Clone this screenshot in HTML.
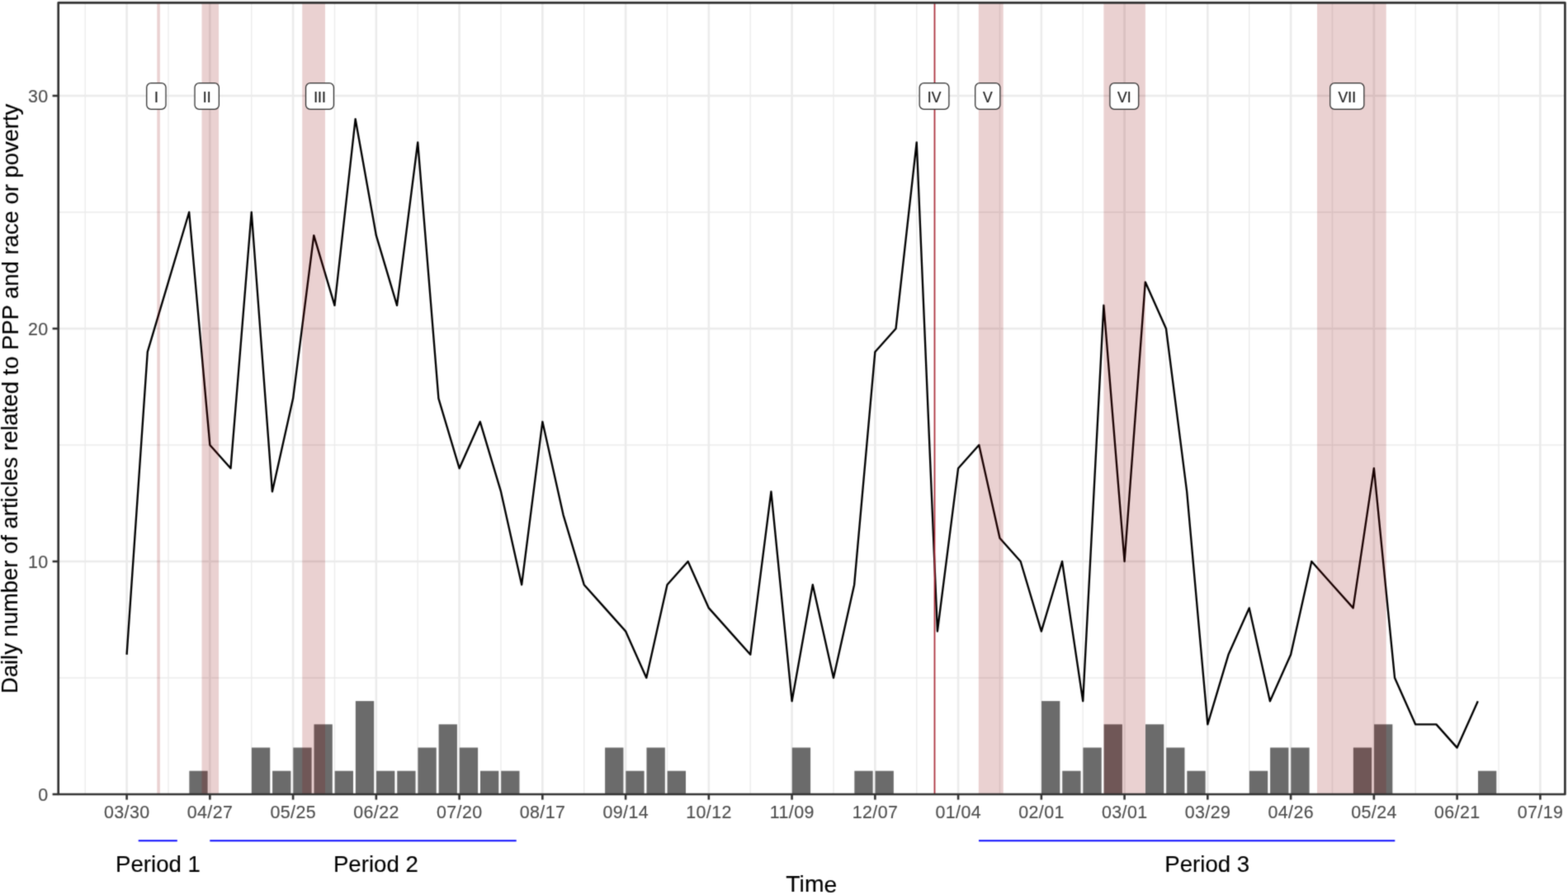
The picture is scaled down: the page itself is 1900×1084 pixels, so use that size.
<!DOCTYPE html>
<html lang="en">
<head>
<meta charset="utf-8">
<title>Daily number of articles related to PPP and race or poverty</title>
<style>
html,body{margin:0;padding:0;background:#fff;}
body{width:1900px;height:1084px;overflow:hidden;}
svg{display:block;}
text{font-family:"Liberation Sans",Arial,Helvetica,sans-serif;}
.tick{font-size:21.4px;letter-spacing:0.45px;fill:#4d4d4d;stroke:#4d4d4d;stroke-width:0.15px;}
.title{font-size:27.5px;fill:#000;stroke:#000;stroke-width:0.12px;}
.period{font-size:27.5px;fill:#000;stroke:#000;stroke-width:0.12px;}
.lab{font-size:17.5px;fill:#1a1a1a;stroke:#1a1a1a;stroke-width:0.2px;}
</style>
</head>
<body>
<svg width="1900" height="1084" viewBox="0 0 1900 1084">
<rect x="0" y="0" width="1900" height="1084" fill="#ffffff"/>
<defs><filter id="soft" x="0" y="0" width="1900" height="1084" filterUnits="userSpaceOnUse" color-interpolation-filters="sRGB"><feConvolveMatrix order="3" kernelMatrix="3 11 3 11 44 11 3 11 3" divisor="100" edgeMode="duplicate" preserveAlpha="false"/></filter><clipPath id="panel"><rect x="70.7" y="3.3" width="1825.7" height="958.7"/></clipPath></defs>
<g filter="url(#soft)">
<rect x="0" y="0" width="1900" height="1084" fill="#ffffff"/>
<g clip-path="url(#panel)">
<g stroke="#ebebeb" stroke-width="1.35" fill="none">
<line x1="70.7" x2="1896.4" y1="821" y2="821"/>
<line x1="70.7" x2="1896.4" y1="539" y2="539"/>
<line x1="70.7" x2="1896.4" y1="257" y2="257"/>
<line x1="103.22" x2="103.22" y1="3.3" y2="962"/>
<line x1="203.97" x2="203.97" y1="3.3" y2="962"/>
<line x1="304.73" x2="304.73" y1="3.3" y2="962"/>
<line x1="405.48" x2="405.48" y1="3.3" y2="962"/>
<line x1="506.23" x2="506.23" y1="3.3" y2="962"/>
<line x1="606.98" x2="606.98" y1="3.3" y2="962"/>
<line x1="707.73" x2="707.73" y1="3.3" y2="962"/>
<line x1="808.48" x2="808.48" y1="3.3" y2="962"/>
<line x1="909.23" x2="909.23" y1="3.3" y2="962"/>
<line x1="1009.98" x2="1009.98" y1="3.3" y2="962"/>
<line x1="1110.72" x2="1110.72" y1="3.3" y2="962"/>
<line x1="1211.47" x2="1211.47" y1="3.3" y2="962"/>
<line x1="1312.22" x2="1312.22" y1="3.3" y2="962"/>
<line x1="1412.97" x2="1412.97" y1="3.3" y2="962"/>
<line x1="1513.72" x2="1513.72" y1="3.3" y2="962"/>
<line x1="1614.47" x2="1614.47" y1="3.3" y2="962"/>
<line x1="1715.22" x2="1715.22" y1="3.3" y2="962"/>
<line x1="1815.97" x2="1815.97" y1="3.3" y2="962"/>
</g>
<g stroke="#ebebeb" stroke-width="2.6" fill="none">
<line x1="70.7" x2="1896.4" y1="680" y2="680"/>
<line x1="70.7" x2="1896.4" y1="398" y2="398"/>
<line x1="70.7" x2="1896.4" y1="116" y2="116"/>
<line x1="153.6" x2="153.6" y1="3.3" y2="962"/>
<line x1="254.35" x2="254.35" y1="3.3" y2="962"/>
<line x1="355.1" x2="355.1" y1="3.3" y2="962"/>
<line x1="455.85" x2="455.85" y1="3.3" y2="962"/>
<line x1="556.6" x2="556.6" y1="3.3" y2="962"/>
<line x1="657.35" x2="657.35" y1="3.3" y2="962"/>
<line x1="758.1" x2="758.1" y1="3.3" y2="962"/>
<line x1="858.85" x2="858.85" y1="3.3" y2="962"/>
<line x1="959.6" x2="959.6" y1="3.3" y2="962"/>
<line x1="1060.35" x2="1060.35" y1="3.3" y2="962"/>
<line x1="1161.1" x2="1161.1" y1="3.3" y2="962"/>
<line x1="1261.85" x2="1261.85" y1="3.3" y2="962"/>
<line x1="1362.6" x2="1362.6" y1="3.3" y2="962"/>
<line x1="1463.35" x2="1463.35" y1="3.3" y2="962"/>
<line x1="1564.1" x2="1564.1" y1="3.3" y2="962"/>
<line x1="1664.85" x2="1664.85" y1="3.3" y2="962"/>
<line x1="1765.6" x2="1765.6" y1="3.3" y2="962"/>
<line x1="1866.35" x2="1866.35" y1="3.3" y2="962"/>
</g>
<g fill="#6b6b6b">
<rect x="229.36" y="933.7" width="22.3" height="28.3"/>
<rect x="304.93" y="905.5" width="22.3" height="56.5"/>
<rect x="330.11" y="933.7" width="22.3" height="28.3"/>
<rect x="355.3" y="905.5" width="22.3" height="56.5"/>
<rect x="380.49" y="877.3" width="22.3" height="84.7"/>
<rect x="405.68" y="933.7" width="22.3" height="28.3"/>
<rect x="430.86" y="849.1" width="22.3" height="112.9"/>
<rect x="456.05" y="933.7" width="22.3" height="28.3"/>
<rect x="481.24" y="933.7" width="22.3" height="28.3"/>
<rect x="506.43" y="905.5" width="22.3" height="56.5"/>
<rect x="531.61" y="877.3" width="22.3" height="84.7"/>
<rect x="556.8" y="905.5" width="22.3" height="56.5"/>
<rect x="581.99" y="933.7" width="22.3" height="28.3"/>
<rect x="607.18" y="933.7" width="22.3" height="28.3"/>
<rect x="733.11" y="905.5" width="22.3" height="56.5"/>
<rect x="758.3" y="933.7" width="22.3" height="28.3"/>
<rect x="783.49" y="905.5" width="22.3" height="56.5"/>
<rect x="808.68" y="933.7" width="22.3" height="28.3"/>
<rect x="959.8" y="905.5" width="22.3" height="56.5"/>
<rect x="1035.36" y="933.7" width="22.3" height="28.3"/>
<rect x="1060.55" y="933.7" width="22.3" height="28.3"/>
<rect x="1262.05" y="849.1" width="22.3" height="112.9"/>
<rect x="1287.24" y="933.7" width="22.3" height="28.3"/>
<rect x="1312.42" y="905.5" width="22.3" height="56.5"/>
<rect x="1337.61" y="877.3" width="22.3" height="84.7"/>
<rect x="1387.99" y="877.3" width="22.3" height="84.7"/>
<rect x="1413.17" y="905.5" width="22.3" height="56.5"/>
<rect x="1438.36" y="933.7" width="22.3" height="28.3"/>
<rect x="1513.92" y="933.7" width="22.3" height="28.3"/>
<rect x="1539.11" y="905.5" width="22.3" height="56.5"/>
<rect x="1564.3" y="905.5" width="22.3" height="56.5"/>
<rect x="1639.86" y="905.5" width="22.3" height="56.5"/>
<rect x="1665.05" y="877.3" width="22.3" height="84.7"/>
<rect x="1790.99" y="933.7" width="22.3" height="28.3"/>
</g>
<polyline points="153.6,792.8 178.79,426.2 203.97,341.6 229.16,257 254.35,539 279.54,567.2 304.73,257 329.91,595.4 355.1,482.6 380.29,285.2 405.48,369.8 430.66,144.2 455.85,285.2 481.04,369.8 506.23,172.4 531.41,482.6 556.6,567.2 581.79,510.8 606.98,595.4 632.16,708.2 657.35,510.8 682.54,623.6 707.73,708.2 732.91,736.4 758.1,764.6 783.29,821 808.48,708.2 833.66,680 858.85,736.4 884.04,764.6 909.23,792.8 934.41,595.4 959.6,849.2 984.79,708.2 1009.98,821 1035.16,708.2 1060.35,426.2 1085.54,398 1110.72,172.4 1135.91,764.6 1161.1,567.2 1186.29,539 1211.47,651.8 1236.66,680 1261.85,764.6 1287.04,680 1312.22,849.2 1337.41,369.8 1362.6,680 1387.79,341.6 1412.97,398 1438.16,595.4 1463.35,877.4 1488.54,792.8 1513.72,736.4 1538.91,849.2 1564.1,792.8 1589.29,680 1614.47,708.2 1639.66,736.4 1664.85,567.2 1690.04,821 1715.22,877.4 1740.41,877.4 1765.6,905.6 1790.79,849.2" fill="none" stroke="#000" stroke-width="2.35" stroke-linejoin="round" stroke-linecap="butt"/>
<g fill="#8b0000" fill-opacity="0.18">
<rect x="190.3" y="3.3" width="3.6" height="958.7"/>
<rect x="244.5" y="3.3" width="20.6" height="958.7"/>
<rect x="366.2" y="3.3" width="27.8" height="958.7"/>
<rect x="1185.8" y="3.3" width="29.9" height="958.7"/>
<rect x="1337.4" y="3.3" width="50.5" height="958.7"/>
<rect x="1596" y="3.3" width="83.7" height="958.7"/>
</g>
<line x1="1132.5" x2="1132.5" y1="3.3" y2="962" stroke="#a82a36" stroke-width="1.7"/>
<rect x="177.7" y="100.7" width="23.3" height="31.6" rx="5.3" ry="5.3" fill="#fff" stroke="#2a2a2a" stroke-width="1.25"/>
<text class="lab" transform="translate(189.35,124.2) rotate(0.02) scale(1.0,1.03)" text-anchor="middle">I</text>
<rect x="236" y="100.7" width="29.4" height="31.6" rx="5.3" ry="5.3" fill="#fff" stroke="#2a2a2a" stroke-width="1.25"/>
<text class="lab" transform="translate(250.7,124.2) rotate(0.02) scale(1.0,1.03)" text-anchor="middle">II</text>
<rect x="370.55" y="100.7" width="33.9" height="31.6" rx="5.3" ry="5.3" fill="#fff" stroke="#2a2a2a" stroke-width="1.25"/>
<text class="lab" transform="translate(387.5,124.2) rotate(0.02) scale(1.0,1.03)" text-anchor="middle">III</text>
<rect x="1114.2" y="100.7" width="35.7" height="31.6" rx="5.3" ry="5.3" fill="#fff" stroke="#2a2a2a" stroke-width="1.25"/>
<text class="lab" transform="translate(1132.05,124.2) rotate(0.02) scale(1.0,1.03)" text-anchor="middle">IV</text>
<rect x="1181.7" y="100.7" width="30.2" height="31.6" rx="5.3" ry="5.3" fill="#fff" stroke="#2a2a2a" stroke-width="1.25"/>
<text class="lab" transform="translate(1196.8,124.2) rotate(0.02) scale(1.0,1.03)" text-anchor="middle">V</text>
<rect x="1344.9" y="100.7" width="34.8" height="31.6" rx="5.3" ry="5.3" fill="#fff" stroke="#2a2a2a" stroke-width="1.25"/>
<text class="lab" transform="translate(1362.3,124.2) rotate(0.02) scale(1.0,1.03)" text-anchor="middle">VI</text>
<rect x="1611.75" y="100.7" width="41.1" height="31.6" rx="5.3" ry="5.3" fill="#fff" stroke="#2a2a2a" stroke-width="1.25"/>
<text class="lab" transform="translate(1632.3,124.2) rotate(0.02) scale(1.0,1.03)" text-anchor="middle">VII</text>
</g>
<rect x="70.7" y="0" width="1825.7" height="2.2" fill="#efefef"/>
<rect x="70.7" y="3.3" width="1825.7" height="958.7" fill="none" stroke="#333333" stroke-width="2.7" stroke-linejoin="round"/>
<g stroke="#333333" stroke-width="2.6" fill="none">
<line x1="153.6" x2="153.6" y1="962" y2="968.6"/>
<line x1="254.35" x2="254.35" y1="962" y2="968.6"/>
<line x1="355.1" x2="355.1" y1="962" y2="968.6"/>
<line x1="455.85" x2="455.85" y1="962" y2="968.6"/>
<line x1="556.6" x2="556.6" y1="962" y2="968.6"/>
<line x1="657.35" x2="657.35" y1="962" y2="968.6"/>
<line x1="758.1" x2="758.1" y1="962" y2="968.6"/>
<line x1="858.85" x2="858.85" y1="962" y2="968.6"/>
<line x1="959.6" x2="959.6" y1="962" y2="968.6"/>
<line x1="1060.35" x2="1060.35" y1="962" y2="968.6"/>
<line x1="1161.1" x2="1161.1" y1="962" y2="968.6"/>
<line x1="1261.85" x2="1261.85" y1="962" y2="968.6"/>
<line x1="1362.6" x2="1362.6" y1="962" y2="968.6"/>
<line x1="1463.35" x2="1463.35" y1="962" y2="968.6"/>
<line x1="1564.1" x2="1564.1" y1="962" y2="968.6"/>
<line x1="1664.85" x2="1664.85" y1="962" y2="968.6"/>
<line x1="1765.6" x2="1765.6" y1="962" y2="968.6"/>
<line x1="1866.35" x2="1866.35" y1="962" y2="968.6"/>
<line x1="63.6" x2="70.7" y1="962" y2="962"/>
<line x1="63.6" x2="70.7" y1="680" y2="680"/>
<line x1="63.6" x2="70.7" y1="398" y2="398"/>
<line x1="63.6" x2="70.7" y1="116" y2="116"/>
</g>
<text class="tick" transform="translate(153.82,991.05) rotate(0.02) scale(1.0,1.07)" text-anchor="middle">03/30</text>
<text class="tick" transform="translate(254.57,991.05) rotate(0.02) scale(1.0,1.07)" text-anchor="middle">04/27</text>
<text class="tick" transform="translate(355.32,991.05) rotate(0.02) scale(1.0,1.07)" text-anchor="middle">05/25</text>
<text class="tick" transform="translate(456.07,991.05) rotate(0.02) scale(1.0,1.07)" text-anchor="middle">06/22</text>
<text class="tick" transform="translate(556.82,991.05) rotate(0.02) scale(1.0,1.07)" text-anchor="middle">07/20</text>
<text class="tick" transform="translate(657.57,991.05) rotate(0.02) scale(1.0,1.07)" text-anchor="middle">08/17</text>
<text class="tick" transform="translate(758.32,991.05) rotate(0.02) scale(1.0,1.07)" text-anchor="middle">09/14</text>
<text class="tick" transform="translate(859.07,991.05) rotate(0.02) scale(1.0,1.07)" text-anchor="middle">10/12</text>
<text class="tick" transform="translate(959.82,991.05) rotate(0.02) scale(1.0,1.07)" text-anchor="middle">11/09</text>
<text class="tick" transform="translate(1060.57,991.05) rotate(0.02) scale(1.0,1.07)" text-anchor="middle">12/07</text>
<text class="tick" transform="translate(1161.32,991.05) rotate(0.02) scale(1.0,1.07)" text-anchor="middle">01/04</text>
<text class="tick" transform="translate(1262.07,991.05) rotate(0.02) scale(1.0,1.07)" text-anchor="middle">02/01</text>
<text class="tick" transform="translate(1362.82,991.05) rotate(0.02) scale(1.0,1.07)" text-anchor="middle">03/01</text>
<text class="tick" transform="translate(1463.57,991.05) rotate(0.02) scale(1.0,1.07)" text-anchor="middle">03/29</text>
<text class="tick" transform="translate(1564.32,991.05) rotate(0.02) scale(1.0,1.07)" text-anchor="middle">04/26</text>
<text class="tick" transform="translate(1665.07,991.05) rotate(0.02) scale(1.0,1.07)" text-anchor="middle">05/24</text>
<text class="tick" transform="translate(1765.82,991.05) rotate(0.02) scale(1.0,1.07)" text-anchor="middle">06/21</text>
<text class="tick" transform="translate(1866.57,991.05) rotate(0.02) scale(1.0,1.07)" text-anchor="middle">07/19</text>
<text class="tick" transform="translate(58.65,970.35) rotate(0.02) scale(1.0,1.07)" text-anchor="end">0</text>
<text class="tick" transform="translate(58.65,688.35) rotate(0.02) scale(1.0,1.07)" text-anchor="end">10</text>
<text class="tick" transform="translate(58.65,406.35) rotate(0.02) scale(1.0,1.07)" text-anchor="end">20</text>
<text class="tick" transform="translate(58.65,124.35) rotate(0.02) scale(1.0,1.07)" text-anchor="end">30</text>
<text class="title" transform="translate(983.3,1080.5) rotate(0.02) scale(1.03,1.02)" text-anchor="middle">Time</text>
<text class="title" transform="translate(21.5,482.9) rotate(-89.99) scale(0.9976,1.03)" text-anchor="middle">Daily number of articles related to PPP and race or poverty</text>
<line x1="167.7" x2="214.8" y1="1018.3" y2="1018.3" stroke="#0a0aff" stroke-width="1.9"/>
<text class="period" transform="translate(191.45,1056.15) rotate(0.02) scale(1.005,1.02)" text-anchor="middle">Period 1</text>
<line x1="254.3" x2="625.7" y1="1018.3" y2="1018.3" stroke="#0a0aff" stroke-width="1.9"/>
<text class="period" transform="translate(455.35,1056.15) rotate(0.02) scale(1.005,1.02)" text-anchor="middle">Period 2</text>
<line x1="1186" x2="1690.3" y1="1018.3" y2="1018.3" stroke="#0a0aff" stroke-width="1.9"/>
<text class="period" transform="translate(1462.75,1056.15) rotate(0.02) scale(1.005,1.02)" text-anchor="middle">Period 3</text>
</g>
</svg>
</body>
</html>
